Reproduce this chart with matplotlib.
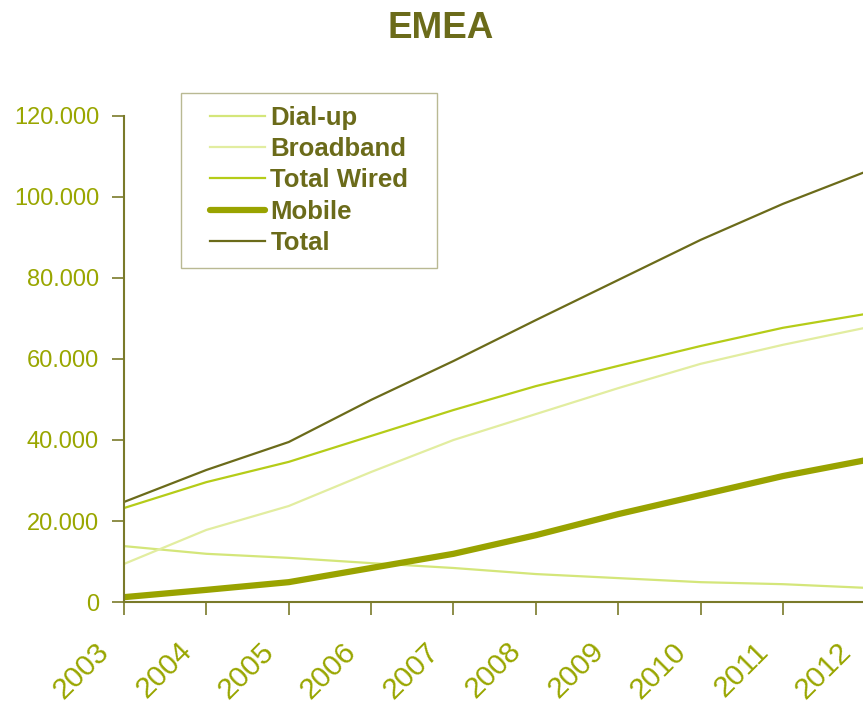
import matplotlib.pyplot as plt
from matplotlib.lines import Line2D
from matplotlib.legend_handler import HandlerLine2D

plt.rcParams['font.family'] = ['Liberation Sans', 'DejaVu Sans']

# Data (thousands)
years = [2003, 2004, 2005, 2006, 2007, 2008, 2009, 2010, 2011, 2012]
dialup = [13.8, 11.9, 10.9, 9.6, 8.4, 6.9, 5.9, 4.9, 4.4, 3.5]
broadband = [9.4, 17.8, 23.7, 32.1, 40.0, 46.4, 52.8, 58.8, 63.5, 67.7]
total_wired = [23.2, 29.6, 34.6, 41.0, 47.4, 53.3, 58.3, 63.2, 67.7, 71.1]
mobile = [1.2, 3.0, 4.9, 8.4, 11.9, 16.5, 21.7, 26.4, 31.1, 35.0]
total = [24.7, 32.6, 39.5, 49.9, 59.5, 69.6, 79.5, 89.4, 98.3, 106.2]

y_ticks = [0, 20, 40, 60, 80, 100, 120]
y_labels = ['0', '20.000', '40.000', '60.000', '80.000', '100.000', '120.000']

dark = '#6b6b1a'
tick_col = '#99a600'
axis_col = '#7a7a2a'

fig = plt.figure(figsize=(8.63, 7.07), dpi=100)
ax = fig.add_axes([0.1437, 0.1485, 0.859, 0.6875])

ax.plot(years, dialup, color='#d4e67a', lw=1.6, label='Dial-up')
ax.plot(years, broadband, color='#e2eda0', lw=1.6, label='Broadband')
ax.plot(years, total_wired, color='#b5cc18', lw=1.6, label='Total Wired')
ax.plot(years, mobile, color='#99a300', lw=4.5, label='Mobile', solid_capstyle='round')
ax.plot(years, total, color=dark, lw=1.6, label='Total')

ax.set_xlim(2003, 2012)
ax.set_ylim(0, 120)
ax.set_yticks(y_ticks)
ax.set_yticklabels(y_labels)
ax.set_xticks(years)
ax.set_xticklabels([])

# rotated year labels, placed below-left of each tick like the original
for yr in years:
    ax.annotate(str(yr), xy=(yr, 0), xycoords=('data', 'axes fraction'),
                xytext=(-19, -45), textcoords='offset pixels',
                rotation=45, ha='right', va='center', rotation_mode='anchor',
                fontsize=21.5, color=tick_col, annotation_clip=False)

for s in ['top', 'right']:
    ax.spines[s].set_visible(False)
for s in ['left', 'bottom']:
    ax.spines[s].set_color(axis_col)
    ax.spines[s].set_linewidth(1.5)

ax.tick_params(axis='y', colors=axis_col, labelcolor=tick_col, labelsize=17,
               length=9, width=1.2, pad=9)
ax.tick_params(axis='x', colors=axis_col, length=9, width=1.2)

leg = ax.legend(loc='upper left', bbox_to_anchor=(0.077, 1.047, 0.345, 0.0),
                mode='expand', borderaxespad=0,
                frameon=True, fancybox=False, fontsize=18.5, numpoints=2,
                handlelength=3.42, handletextpad=-0.45, borderpad=0.5,
                labelspacing=0.28,
                handler_map={Line2D: HandlerLine2D(marker_pad=0.64)})
leg.get_frame().set_edgecolor('#a8a878')
leg.get_frame().set_linewidth(1.0)
for t in leg.get_texts():
    t.set_color(dark)
    t.set_fontweight('bold')

fig.text(0.511, 0.946, 'EMEA', ha='center', va='baseline', fontsize=26.5,
         fontweight='bold', color=dark)

fig.savefig('out.png', dpi=100)
